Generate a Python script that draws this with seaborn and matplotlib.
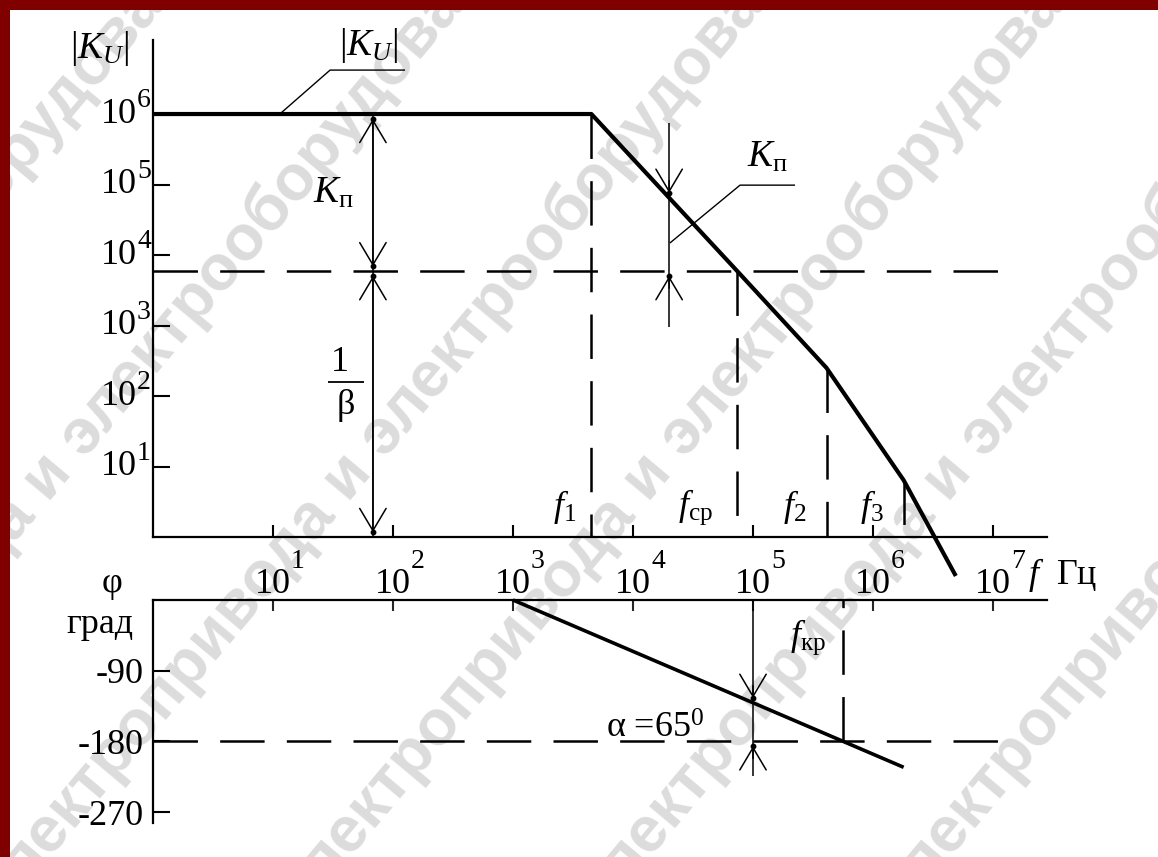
import numpy as np
import pandas as pd
import matplotlib
matplotlib.use("Agg")
import matplotlib.pyplot as plt
import seaborn as sns
from matplotlib.patches import Rectangle
from matplotlib.ticker import NullLocator
from matplotlib import transforms

# Amplitude response |K_U|(f): piecewise asymptotes (f in Hz, gain in times)
gain_freq = [1.0, 4.5e3, 7.4e4, 4.1e5, 1.8e6, 4.9e6]
gain_mag = [1e6, 1e6, 5.9e3, 250.0, 6.4, 0.28]

# Phase response φ(f), degrees
phase_freq = [1e3, 1.8e6]
phase_deg = [0.0, -213.0]

# Characteristic frequencies and levels
f1, f_cp, f2, f3 = 4.5e3, 7.4e4, 4.1e5, 1.8e6
f_kr = 5.6e5
inv_beta = 5.9e3
f_margin = 1e5

# Axis ticks
decades = [1, 2, 3, 4, 5, 6, 7]
gain_decades = [1, 2, 3, 4, 5, 6]
phase_ticks = [-90, -180, -270]
phase_tick_labels = ["-90", "-180", "-270"]

sns.set_theme(style="white")
plt.rcParams.update({
    "font.family": ["Liberation Serif", "DejaVu Serif"],
    "mathtext.fontset": "custom",
    "mathtext.rm": "Liberation Serif",
    "mathtext.it": "Liberation Serif:italic",
    "mathtext.bf": "Liberation Serif:bold",
    "mathtext.sf": "Liberation Serif",
    "lines.scale_dashes": False,
    "axes.unicode_minus": False,
    "lines.solid_capstyle": "butt",
})

W, H = 1158, 857
fig = plt.figure(figsize=(W / 100, H / 100), dpi=100)
fig.patch.set_facecolor("white")


def box(left, top, right, bottom):
    return [left / W, 1 - bottom / H, (right - left) / W, (bottom - top) / H]


ax = fig.add_axes(box(153, 40, 1047, 537))
axp = fig.add_axes(box(153, 600, 1047, 823))
for a in (ax, axp):
    a.set_facecolor("none")
    a.set_xscale("log")
    a.set_xlim(1, 10 ** 7.45)
ax.set_yscale("log")
ax.set_ylim(1, 10 ** 7.05)
axp.set_ylim(-270 - 90 * 11 / 71, 0)

# background watermark
wm = "электропривода и электрооборудования"
for x0 in range(-610, 1300, 300):
    fig.text(x0 / W, -46 / H, wm, rotation=50, rotation_mode="anchor",
             ha="left", va="center", fontsize=46, fontweight="bold",
             family="Liberation Sans", color="#dcdcdc", zorder=-5)

BLACK = "black"
DASH = (0, (32, 16))

# ---- amplitude curve ----
gain_df = pd.DataFrame({"f": gain_freq, "K": gain_mag})
sns.lineplot(data=gain_df, x="f", y="K", ax=ax, color=BLACK, linewidth=3,
             clip_on=False, sort=False)

# ---- phase curve ----
phase_df = pd.DataFrame({"f": phase_freq, "phi": phase_deg})
sns.lineplot(data=phase_df, x="f", y="phi", ax=axp, color=BLACK, linewidth=2.6,
             clip_on=False, sort=False)
ax.set(xlabel="", ylabel="")
axp.set(xlabel="", ylabel="")

# spines
for a, names in ((ax, ("left", "bottom")), (axp, ("left", "top"))):
    for n, s in a.spines.items():
        s.set_visible(n in names)
        s.set_color(BLACK)
        s.set_linewidth(1.6)

# ticks, gain plot: mantissa as tick label, exponent as a raised number
ax.xaxis.set_minor_locator(NullLocator())
ax.yaxis.set_minor_locator(NullLocator())
ax.set_xticks([10.0 ** d for d in decades])
ax.set_xticklabels(["10"] * len(decades))
ax.set_yticks([10.0 ** d for d in gain_decades])
ax.set_yticklabels(["10"] * len(gain_decades))
ax.tick_params(axis="x", direction="in", length=8.5, width=1.5, pad=22,
               labelsize=26, colors=BLACK, bottom=True)
ax.tick_params(axis="y", direction="in", length=12, width=1.5, pad=11.5,
               labelsize=26, colors=BLACK, left=True)
for lab in ax.get_yticklabels():
    lab.set_verticalalignment("center")
for d in decades:
    ax.annotate(str(d), xy=(10.0 ** d, 0), xycoords=("data", "axes fraction"),
                xytext=(13, -22.5), textcoords="offset points", fontsize=20,
                ha="left", va="baseline", color=BLACK, annotation_clip=False)
for d in gain_decades:
    ax.annotate(str(d), xy=(0, 10.0 ** d), xycoords=("axes fraction", "data"),
                xytext=(-11.5, 5), textcoords="offset points", fontsize=20,
                ha="left", va="baseline", color=BLACK, annotation_clip=False)

# ticks, phase plot
axp.xaxis.set_minor_locator(NullLocator())
axp.xaxis.tick_top()
axp.set_xticks([10.0 ** d for d in decades])
axp.tick_params(axis="x", direction="in", length=8, width=1.5, top=True,
                bottom=False, labeltop=False, labelbottom=False)
axp.set_yticks(phase_ticks)
axp.set_yticklabels(phase_tick_labels)
axp.tick_params(axis="y", direction="in", length=12, width=1.5, pad=7,
                labelsize=26, colors=BLACK, left=True)

# ---- dashed construction lines ----
dkw = dict(color=BLACK, lw=1.8, ls=DASH, clip_on=False)
ax.plot([1, 1.19e7], [inv_beta, inv_beta], **dkw)
ax.plot([f1, f1], [gain_mag[1], 1], **dkw)
ax.plot([f_cp, f_cp], [inv_beta, 1], **dkw)
ax.plot([f2, f2], [gain_mag[3], 1], **dkw)
ax.plot([f3, f3], [gain_mag[4], 1], **dkw)
axp.plot([1, 1.55e7], [-180, -180], **dkw)
axp.plot([f_kr, f_kr], [-180, 0], **dkw)

# ---- dimension arrows ----
thin = dict(color=BLACK, lw=1.1, clip_on=False)


def arrow(a, x, y_from, y_to, style):
    a.annotate("", xy=(x, y_to), xytext=(x, y_from), xycoords="data",
               annotation_clip=False,
               arrowprops=dict(arrowstyle=style + ",head_length=1.6,head_width=0.95",
                               mutation_scale=10, lw=1.1, color=BLACK,
                               shrinkA=3.5, shrinkB=3.5))


def dot(a, x, y, dy_pt):
    tr = a.transData + transforms.ScaledTranslation(0, dy_pt / 72, fig.dpi_scale_trans)
    a.plot([x], [y], "o", ms=3.2, color=BLACK, transform=tr, clip_on=False)


# K_п and 1/β on the left
xd = 68
ax.plot([xd, xd], [1e6, 1], **thin)
arrow(ax, xd, inv_beta, 1e6, "<->")
arrow(ax, xd, 1, inv_beta, "<->")
for y, d in ((1e6, -3.5), (inv_beta, 3.5), (inv_beta, -3.5), (1, 3.5)):
    dot(ax, xd, y, d)

# K_п on the slope
xk = 2.0e4
k_at = 10 ** np.interp(np.log10(xk), np.log10(gain_freq), np.log10(gain_mag))
ax.plot([xk, xk], [7.45e5, 952], **thin)
arrow(ax, xk, k_at * 10 ** (22 / 70.5), k_at, "->")
arrow(ax, xk, inv_beta / 10 ** (22 / 70.5), inv_beta, "->")
dot(ax, xk, k_at, 3.5)
dot(ax, xk, inv_beta, -3.5)

# phase margin α
phi_at = np.interp(np.log10(f_margin), np.log10(phase_freq), phase_deg)
axp.plot([f_margin, f_margin], [0, -224], **thin)
arrow(axp, f_margin, phi_at + 90 * 22 / 71, phi_at, "->")
arrow(axp, f_margin, -180 - 90 * 22 / 71, -180, "->")
dot(axp, f_margin, phi_at, 3.5)
dot(axp, f_margin, -180, -3.5)

# leader lines
ax.plot([11.4, 29.9, 126], [1e6, 4.2e6, 4.2e6], color=BLACK, lw=1.0, clip_on=False)
ax.plot([2.03e4, 7.8e4, 2.24e5], [1.48e4, 9.8e4, 9.8e4], color=BLACK, lw=1.0,
        clip_on=False)

# ---- labels ----
tk = dict(color=BLACK, clip_on=False, ha="center", va="center")
ax.text(0.36, 8.6e6, r"$|K_U|$", fontsize=27, **tk)
ax.text(62, 9.5e6, r"$|K_U|$", fontsize=27, **tk)
ax.text(31.6, 7.6e4, r"$K_{\mathrm{п}}$", fontsize=27, **tk)
ax.text(1.33e5, 2.45e5, r"$K_{\mathrm{п}}$", fontsize=27, **tk)
ax.text(36, 294, "1", fontsize=26, **tk)
ax.text(40.6, 74.5, "β", fontsize=26, **tk)
ax.plot([10 ** 1.458, 10 ** 1.758], [158, 158], color=BLACK, lw=1.3, clip_on=False)
ax.text(2710, 2.67, r"$f_{\mathrm{1}}$", fontsize=26, **tk)
ax.text(3.29e4, 2.67, r"$f_{\mathrm{ср}}$", fontsize=26, **tk)
ax.text(2.24e5, 2.7, r"$f_{\mathrm{2}}$", fontsize=26, **tk)
ax.text(9.8e5, 2.7, r"$f_{\mathrm{3}}$", fontsize=26, **tk)
ax.text(1.96e7, 0.29, r"$f$  Гц", fontsize=26, color=BLACK, clip_on=False,
        ha="left", va="center")

axp.text(0.46, 21.5, "φ", fontsize=26, **tk)
axp.text(0.36, -31.7, "град", fontsize=26, **tk)
axp.text(2.87e5, -46.9, r"$f_{\mathrm{кр}}$", fontsize=26, **tk)
axp.text(1.52e4, -164, "α =65$^{0}$", fontsize=26, **tk)

# frame
fig.add_artist(Rectangle((0, 1 - 10 / H), 1, 10 / H, transform=fig.transFigure,
                         facecolor="#800000", edgecolor="none", zorder=20))
fig.add_artist(Rectangle((0, 0), 10 / W, 1, transform=fig.transFigure,
                         facecolor="#800000", edgecolor="none", zorder=20))

fig.savefig("out.png", dpi=100, facecolor="white")
